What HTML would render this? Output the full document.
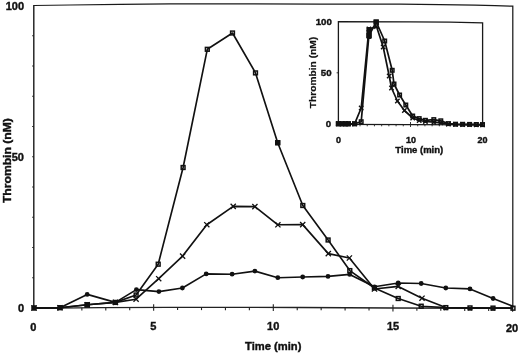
<!DOCTYPE html>
<html><head><meta charset="utf-8"><style>
html,body{margin:0;padding:0;background:#fff;width:520px;height:354px;overflow:hidden}
svg{display:block;font-family:"Liberation Sans",sans-serif;filter:grayscale(1)}
</style></head><body>
<svg width="520" height="354" viewBox="0 0 520 354">
<rect width="520" height="354" fill="#fff"/>
<g shape-rendering="geometricPrecision">
<polyline points="34,5.5 70,5.0 120,4.3 170,3.9 320,4.0 400,4.2 440,4.6 475,5.2 495,5.7 512.8,6.2 512.8,308.3" fill="none" stroke="#1a1a1a" stroke-width="1.25"/>
<line x1="33.8" y1="5" x2="33.8" y2="308.5" stroke="#1a1a1a" stroke-width="1.4"/>
<polyline points="33.8,308.3 100,307.7 170,307.4 300,307.5 393,308 512.8,308.3" fill="none" stroke="#222" stroke-width="1.3"/>
<line x1="57.93" y1="308.08" x2="57.93" y2="310.78" stroke="#222" stroke-width="1.1"/>
<line x1="81.86" y1="307.86" x2="81.86" y2="310.56" stroke="#222" stroke-width="1.1"/>
<line x1="105.79" y1="307.68" x2="105.79" y2="310.38" stroke="#222" stroke-width="1.1"/>
<line x1="129.72" y1="307.57" x2="129.72" y2="310.27" stroke="#222" stroke-width="1.1"/>
<line x1="153.65" y1="304.27" x2="153.65" y2="310.87" stroke="#222" stroke-width="1.1"/>
<line x1="177.58" y1="307.41" x2="177.58" y2="310.11" stroke="#222" stroke-width="1.1"/>
<line x1="201.51" y1="307.42" x2="201.51" y2="310.12" stroke="#222" stroke-width="1.1"/>
<line x1="225.44" y1="307.44" x2="225.44" y2="310.14" stroke="#222" stroke-width="1.1"/>
<line x1="249.37" y1="307.46" x2="249.37" y2="310.16" stroke="#222" stroke-width="1.1"/>
<line x1="273.30" y1="304.28" x2="273.30" y2="310.88" stroke="#222" stroke-width="1.1"/>
<line x1="297.23" y1="307.50" x2="297.23" y2="310.20" stroke="#222" stroke-width="1.1"/>
<line x1="321.16" y1="307.61" x2="321.16" y2="310.31" stroke="#222" stroke-width="1.1"/>
<line x1="345.09" y1="307.74" x2="345.09" y2="310.44" stroke="#222" stroke-width="1.1"/>
<line x1="369.02" y1="307.87" x2="369.02" y2="310.57" stroke="#222" stroke-width="1.1"/>
<line x1="392.95" y1="304.80" x2="392.95" y2="311.40" stroke="#222" stroke-width="1.1"/>
<line x1="416.88" y1="308.06" x2="416.88" y2="310.76" stroke="#222" stroke-width="1.1"/>
<line x1="440.81" y1="308.12" x2="440.81" y2="310.82" stroke="#222" stroke-width="1.1"/>
<line x1="464.74" y1="308.18" x2="464.74" y2="310.88" stroke="#222" stroke-width="1.1"/>
<line x1="488.67" y1="308.24" x2="488.67" y2="310.94" stroke="#222" stroke-width="1.1"/>
<line x1="512.60" y1="305.10" x2="512.60" y2="311.70" stroke="#222" stroke-width="1.1"/>
<line x1="32.2" y1="277.75" x2="33.8" y2="277.75" stroke="#222" stroke-width="1"/>
<line x1="32.2" y1="247.50" x2="33.8" y2="247.50" stroke="#222" stroke-width="1"/>
<line x1="32.2" y1="217.25" x2="33.8" y2="217.25" stroke="#222" stroke-width="1"/>
<line x1="32.2" y1="187.00" x2="33.8" y2="187.00" stroke="#222" stroke-width="1"/>
<line x1="32.2" y1="156.75" x2="33.8" y2="156.75" stroke="#222" stroke-width="1"/>
<line x1="32.2" y1="126.50" x2="33.8" y2="126.50" stroke="#222" stroke-width="1"/>
<line x1="32.2" y1="96.25" x2="33.8" y2="96.25" stroke="#222" stroke-width="1"/>
<line x1="32.2" y1="66.00" x2="33.8" y2="66.00" stroke="#222" stroke-width="1"/>
<line x1="32.2" y1="35.75" x2="33.8" y2="35.75" stroke="#222" stroke-width="1"/>
<polyline points="34,308 60,307.7 87.2,294.4 115.4,302.4 136.4,289.6 158.9,291.6 182.4,288 206.2,273.9 232.1,274.2 254.9,271.1 277.8,277.7 302.7,277 328,276.4 349.7,274.4 374.5,286.8 398.2,283 421.2,283.5 445.8,288 470,288.9 493.1,298.5 513,306.3" fill="none" stroke="#111" stroke-width="1.65" stroke-linejoin="round"/>
<polyline points="34,308 60,307.7 87.2,304.8 115.4,302.4 136.1,299.2 158.7,278.7 182.6,256.1 206.8,224.7 233.2,206.4 254.9,206.6 277.9,224.8 302.7,224.6 328.3,253.6 349.4,258 374.5,289 398.2,286.4 422,298.2 445.8,307.6 470,307.9 493,308.1 513,308.2" fill="none" stroke="#111" stroke-width="1.65" stroke-linejoin="round"/>
<polyline points="34,308 60,307.7 87.2,304.8 115.4,302.4 136.1,295 158.2,264.2 183.1,167.5 207.3,49.3 232.5,33 255.5,72.9 277.7,142.7 302.8,205.5 328.1,240 349.8,270.6 374.4,288 398.2,298.5 421.2,306.2 445.8,307.6 470,307.9 493,308.1 513,308.2" fill="none" stroke="#111" stroke-width="1.65" stroke-linejoin="round"/>
<rect x="32.10" y="306.10" width="3.8" height="3.8" fill="none" stroke="#111" stroke-width="1.5"/>
<rect x="58.10" y="305.80" width="3.8" height="3.8" fill="none" stroke="#111" stroke-width="1.5"/>
<rect x="85.30" y="302.90" width="3.8" height="3.8" fill="none" stroke="#111" stroke-width="1.5"/>
<rect x="113.50" y="300.50" width="3.8" height="3.8" fill="none" stroke="#111" stroke-width="1.5"/>
<rect x="134.20" y="293.10" width="3.8" height="3.8" fill="none" stroke="#111" stroke-width="1.5"/>
<rect x="156.30" y="262.30" width="3.8" height="3.8" fill="none" stroke="#111" stroke-width="1.5"/>
<rect x="181.20" y="165.60" width="3.8" height="3.8" fill="none" stroke="#111" stroke-width="1.5"/>
<rect x="205.40" y="47.40" width="3.8" height="3.8" fill="none" stroke="#111" stroke-width="1.5"/>
<rect x="230.60" y="31.10" width="3.8" height="3.8" fill="none" stroke="#111" stroke-width="1.5"/>
<rect x="253.60" y="71.00" width="3.8" height="3.8" fill="none" stroke="#111" stroke-width="1.5"/>
<rect x="275.80" y="140.80" width="3.8" height="3.8" fill="none" stroke="#111" stroke-width="1.5"/>
<rect x="300.90" y="203.60" width="3.8" height="3.8" fill="none" stroke="#111" stroke-width="1.5"/>
<rect x="326.20" y="238.10" width="3.8" height="3.8" fill="none" stroke="#111" stroke-width="1.5"/>
<rect x="347.90" y="268.70" width="3.8" height="3.8" fill="none" stroke="#111" stroke-width="1.5"/>
<rect x="372.50" y="286.10" width="3.8" height="3.8" fill="none" stroke="#111" stroke-width="1.5"/>
<rect x="396.30" y="296.60" width="3.8" height="3.8" fill="none" stroke="#111" stroke-width="1.5"/>
<rect x="419.30" y="304.30" width="3.8" height="3.8" fill="none" stroke="#111" stroke-width="1.5"/>
<rect x="443.90" y="305.70" width="3.8" height="3.8" fill="none" stroke="#111" stroke-width="1.5"/>
<rect x="468.10" y="306.00" width="3.8" height="3.8" fill="none" stroke="#111" stroke-width="1.5"/>
<rect x="491.10" y="306.20" width="3.8" height="3.8" fill="none" stroke="#111" stroke-width="1.5"/>
<rect x="511.10" y="306.30" width="3.8" height="3.8" fill="none" stroke="#111" stroke-width="1.5"/>
<path d="M31.40,305.40L36.60,310.60M36.60,305.40L31.40,310.60" stroke="#111" stroke-width="1.3"/>
<path d="M57.40,305.10L62.60,310.30M62.60,305.10L57.40,310.30" stroke="#111" stroke-width="1.3"/>
<path d="M84.60,302.20L89.80,307.40M89.80,302.20L84.60,307.40" stroke="#111" stroke-width="1.3"/>
<path d="M112.80,299.80L118.00,305.00M118.00,299.80L112.80,305.00" stroke="#111" stroke-width="1.3"/>
<path d="M133.50,296.60L138.70,301.80M138.70,296.60L133.50,301.80" stroke="#111" stroke-width="1.3"/>
<path d="M156.10,276.10L161.30,281.30M161.30,276.10L156.10,281.30" stroke="#111" stroke-width="1.3"/>
<path d="M180.00,253.50L185.20,258.70M185.20,253.50L180.00,258.70" stroke="#111" stroke-width="1.3"/>
<path d="M204.20,222.10L209.40,227.30M209.40,222.10L204.20,227.30" stroke="#111" stroke-width="1.3"/>
<path d="M230.60,203.80L235.80,209.00M235.80,203.80L230.60,209.00" stroke="#111" stroke-width="1.3"/>
<path d="M252.30,204.00L257.50,209.20M257.50,204.00L252.30,209.20" stroke="#111" stroke-width="1.3"/>
<path d="M275.30,222.20L280.50,227.40M280.50,222.20L275.30,227.40" stroke="#111" stroke-width="1.3"/>
<path d="M300.10,222.00L305.30,227.20M305.30,222.00L300.10,227.20" stroke="#111" stroke-width="1.3"/>
<path d="M325.70,251.00L330.90,256.20M330.90,251.00L325.70,256.20" stroke="#111" stroke-width="1.3"/>
<path d="M346.80,255.40L352.00,260.60M352.00,255.40L346.80,260.60" stroke="#111" stroke-width="1.3"/>
<path d="M371.90,286.40L377.10,291.60M377.10,286.40L371.90,291.60" stroke="#111" stroke-width="1.3"/>
<path d="M395.60,283.80L400.80,289.00M400.80,283.80L395.60,289.00" stroke="#111" stroke-width="1.3"/>
<path d="M419.40,295.60L424.60,300.80M424.60,295.60L419.40,300.80" stroke="#111" stroke-width="1.3"/>
<path d="M444.20,307.00L447.40,310.20M447.40,307.00L444.20,310.20" stroke="#111" stroke-width="1.1"/>
<path d="M468.40,307.30L471.60,310.50M471.60,307.30L468.40,310.50" stroke="#111" stroke-width="1.1"/>
<path d="M491.40,307.50L494.60,310.70M494.60,307.50L491.40,310.70" stroke="#111" stroke-width="1.1"/>
<circle cx="34" cy="308" r="2.4" fill="#111"/>
<circle cx="60" cy="307.7" r="2.4" fill="#111"/>
<circle cx="87.2" cy="294.4" r="2.4" fill="#111"/>
<circle cx="115.4" cy="302.4" r="2.4" fill="#111"/>
<circle cx="136.4" cy="289.6" r="2.4" fill="#111"/>
<circle cx="158.9" cy="291.6" r="2.4" fill="#111"/>
<circle cx="182.4" cy="288" r="2.4" fill="#111"/>
<circle cx="206.2" cy="273.9" r="2.4" fill="#111"/>
<circle cx="232.1" cy="274.2" r="2.4" fill="#111"/>
<circle cx="254.9" cy="271.1" r="2.4" fill="#111"/>
<circle cx="277.8" cy="277.7" r="2.4" fill="#111"/>
<circle cx="302.7" cy="277" r="2.4" fill="#111"/>
<circle cx="328" cy="276.4" r="2.4" fill="#111"/>
<circle cx="349.7" cy="274.4" r="2.4" fill="#111"/>
<circle cx="374.5" cy="286.8" r="2.4" fill="#111"/>
<circle cx="398.2" cy="283" r="2.4" fill="#111"/>
<circle cx="421.2" cy="283.5" r="2.4" fill="#111"/>
<circle cx="445.8" cy="288" r="2.4" fill="#111"/>
<circle cx="470" cy="288.9" r="2.4" fill="#111"/>
<circle cx="493.1" cy="298.5" r="2.4" fill="#111"/>
<rect x="84.8" y="302.2" width="5.2" height="5.2" fill="#111"/>
<rect x="275.1" y="140.1" width="5.2" height="5.2" fill="#111"/>
<polyline points="338.4,124.4 338.4,21.6 410,21.8 450,22.2 482.6,22.9 482.6,125" fill="none" stroke="#1a1a1a" stroke-width="1.3"/>
<polyline points="338.4,124.3 482.6,124.8" fill="none" stroke="#1a1a1a" stroke-width="1.3"/>
<line x1="345.61" y1="124.3" x2="345.61" y2="126.3" stroke="#222" stroke-width="0.9"/>
<line x1="352.82" y1="124.3" x2="352.82" y2="126.3" stroke="#222" stroke-width="0.9"/>
<line x1="360.03" y1="124.3" x2="360.03" y2="126.3" stroke="#222" stroke-width="0.9"/>
<line x1="367.24" y1="124.3" x2="367.24" y2="126.3" stroke="#222" stroke-width="0.9"/>
<line x1="374.45" y1="124.3" x2="374.45" y2="126.3" stroke="#222" stroke-width="0.9"/>
<line x1="381.66" y1="124.3" x2="381.66" y2="126.3" stroke="#222" stroke-width="0.9"/>
<line x1="388.87" y1="124.3" x2="388.87" y2="126.3" stroke="#222" stroke-width="0.9"/>
<line x1="396.08" y1="124.3" x2="396.08" y2="126.3" stroke="#222" stroke-width="0.9"/>
<line x1="403.29" y1="124.3" x2="403.29" y2="126.3" stroke="#222" stroke-width="0.9"/>
<line x1="410.50" y1="122" x2="410.50" y2="127" stroke="#222" stroke-width="0.9"/>
<line x1="417.71" y1="124.3" x2="417.71" y2="126.3" stroke="#222" stroke-width="0.9"/>
<line x1="424.92" y1="124.3" x2="424.92" y2="126.3" stroke="#222" stroke-width="0.9"/>
<line x1="432.13" y1="124.3" x2="432.13" y2="126.3" stroke="#222" stroke-width="0.9"/>
<line x1="439.34" y1="124.3" x2="439.34" y2="126.3" stroke="#222" stroke-width="0.9"/>
<line x1="446.55" y1="124.3" x2="446.55" y2="126.3" stroke="#222" stroke-width="0.9"/>
<line x1="453.76" y1="124.3" x2="453.76" y2="126.3" stroke="#222" stroke-width="0.9"/>
<line x1="460.97" y1="124.3" x2="460.97" y2="126.3" stroke="#222" stroke-width="0.9"/>
<line x1="468.18" y1="124.3" x2="468.18" y2="126.3" stroke="#222" stroke-width="0.9"/>
<line x1="475.39" y1="124.3" x2="475.39" y2="126.3" stroke="#222" stroke-width="0.9"/>
<line x1="482.60" y1="122" x2="482.60" y2="127" stroke="#222" stroke-width="0.9"/>
<line x1="336.6" y1="72.8" x2="338.4" y2="72.8" stroke="#222" stroke-width="0.9"/>
<polyline points="338.4,123.8 342,123.8 345.6,123.8 348.5,123.8 354.6,123.8 361.2,108 368.9,29 376.5,26.5 383.2,47 389.2,76 391.5,88 397.4,101 404.4,110.5 412.7,118 419.2,120.5 425.4,121.5 433.8,122.2 440.8,122.8 448.4,124 455.5,124.4 462.6,124.5 469.6,124.6 476.3,124.7 482.5,124.8" fill="none" stroke="#111" stroke-width="1.7" stroke-linejoin="round"/>
<polyline points="338.4,123.8 342,123.8 345.6,123.8 348.5,123.8 354.6,123.8 361.2,121.7 368.9,35.5 376.3,22 384.7,41 392.2,70.3 394,84 399.6,95 405.8,105 412.7,116 419.2,118.6 425.4,120.3 433.8,119.6 440.8,120.8 448.4,123.6 455.5,124.2 462.6,124.3 469.6,124.4 476.3,124.5 482.5,124.6" fill="none" stroke="#111" stroke-width="1.7" stroke-linejoin="round"/>
<rect x="336.65" y="122.05" width="3.5" height="3.5" fill="none" stroke="#111" stroke-width="1.5"/>
<rect x="340.25" y="122.05" width="3.5" height="3.5" fill="none" stroke="#111" stroke-width="1.5"/>
<rect x="343.85" y="122.05" width="3.5" height="3.5" fill="none" stroke="#111" stroke-width="1.5"/>
<rect x="346.75" y="122.05" width="3.5" height="3.5" fill="none" stroke="#111" stroke-width="1.5"/>
<rect x="352.85" y="122.05" width="3.5" height="3.5" fill="none" stroke="#111" stroke-width="1.5"/>
<rect x="359.45" y="119.95" width="3.5" height="3.5" fill="none" stroke="#111" stroke-width="1.5"/>
<rect x="367.15" y="33.75" width="3.5" height="3.5" fill="none" stroke="#111" stroke-width="1.5"/>
<rect x="374.55" y="20.25" width="3.5" height="3.5" fill="none" stroke="#111" stroke-width="1.5"/>
<rect x="382.95" y="39.25" width="3.5" height="3.5" fill="none" stroke="#111" stroke-width="1.5"/>
<rect x="390.45" y="68.55" width="3.5" height="3.5" fill="none" stroke="#111" stroke-width="1.5"/>
<rect x="392.25" y="82.25" width="3.5" height="3.5" fill="none" stroke="#111" stroke-width="1.5"/>
<rect x="397.85" y="93.25" width="3.5" height="3.5" fill="none" stroke="#111" stroke-width="1.5"/>
<rect x="404.05" y="103.25" width="3.5" height="3.5" fill="none" stroke="#111" stroke-width="1.5"/>
<rect x="410.95" y="114.25" width="3.5" height="3.5" fill="none" stroke="#111" stroke-width="1.5"/>
<rect x="417.45" y="116.85" width="3.5" height="3.5" fill="none" stroke="#111" stroke-width="1.5"/>
<rect x="423.65" y="118.55" width="3.5" height="3.5" fill="none" stroke="#111" stroke-width="1.5"/>
<rect x="432.05" y="117.85" width="3.5" height="3.5" fill="none" stroke="#111" stroke-width="1.5"/>
<rect x="439.05" y="119.05" width="3.5" height="3.5" fill="none" stroke="#111" stroke-width="1.5"/>
<rect x="446.65" y="121.85" width="3.5" height="3.5" fill="none" stroke="#111" stroke-width="1.5"/>
<rect x="453.75" y="122.45" width="3.5" height="3.5" fill="none" stroke="#111" stroke-width="1.5"/>
<rect x="460.85" y="122.55" width="3.5" height="3.5" fill="none" stroke="#111" stroke-width="1.5"/>
<rect x="467.85" y="122.65" width="3.5" height="3.5" fill="none" stroke="#111" stroke-width="1.5"/>
<rect x="474.55" y="122.75" width="3.5" height="3.5" fill="none" stroke="#111" stroke-width="1.5"/>
<rect x="480.75" y="122.85" width="3.5" height="3.5" fill="none" stroke="#111" stroke-width="1.5"/>
<path d="M336.20,121.60L340.60,126.00M340.60,121.60L336.20,126.00" stroke="#111" stroke-width="1.4"/>
<path d="M339.80,121.60L344.20,126.00M344.20,121.60L339.80,126.00" stroke="#111" stroke-width="1.4"/>
<path d="M343.40,121.60L347.80,126.00M347.80,121.60L343.40,126.00" stroke="#111" stroke-width="1.4"/>
<path d="M346.30,121.60L350.70,126.00M350.70,121.60L346.30,126.00" stroke="#111" stroke-width="1.4"/>
<path d="M352.40,121.60L356.80,126.00M356.80,121.60L352.40,126.00" stroke="#111" stroke-width="1.4"/>
<path d="M359.00,105.80L363.40,110.20M363.40,105.80L359.00,110.20" stroke="#111" stroke-width="1.4"/>
<path d="M366.70,26.80L371.10,31.20M371.10,26.80L366.70,31.20" stroke="#111" stroke-width="1.4"/>
<path d="M374.30,24.30L378.70,28.70M378.70,24.30L374.30,28.70" stroke="#111" stroke-width="1.4"/>
<path d="M381.00,44.80L385.40,49.20M385.40,44.80L381.00,49.20" stroke="#111" stroke-width="1.4"/>
<path d="M387.00,73.80L391.40,78.20M391.40,73.80L387.00,78.20" stroke="#111" stroke-width="1.4"/>
<path d="M389.30,85.80L393.70,90.20M393.70,85.80L389.30,90.20" stroke="#111" stroke-width="1.4"/>
<path d="M395.20,98.80L399.60,103.20M399.60,98.80L395.20,103.20" stroke="#111" stroke-width="1.4"/>
<path d="M402.20,108.30L406.60,112.70M406.60,108.30L402.20,112.70" stroke="#111" stroke-width="1.4"/>
<path d="M410.50,115.80L414.90,120.20M414.90,115.80L410.50,120.20" stroke="#111" stroke-width="1.4"/>
<path d="M417.00,118.30L421.40,122.70M421.40,118.30L417.00,122.70" stroke="#111" stroke-width="1.4"/>
<path d="M423.20,119.30L427.60,123.70M427.60,119.30L423.20,123.70" stroke="#111" stroke-width="1.4"/>
<path d="M431.60,120.00L436.00,124.40M436.00,120.00L431.60,124.40" stroke="#111" stroke-width="1.4"/>
<path d="M438.60,120.60L443.00,125.00M443.00,120.60L438.60,125.00" stroke="#111" stroke-width="1.4"/>
<path d="M446.20,121.80L450.60,126.20M450.60,121.80L446.20,126.20" stroke="#111" stroke-width="1.4"/>
<path d="M453.30,122.20L457.70,126.60M457.70,122.20L453.30,126.60" stroke="#111" stroke-width="1.4"/>
<path d="M460.40,122.30L464.80,126.70M464.80,122.30L460.40,126.70" stroke="#111" stroke-width="1.4"/>
<path d="M467.40,122.40L471.80,126.80M471.80,122.40L467.40,126.80" stroke="#111" stroke-width="1.4"/>
<path d="M474.10,122.50L478.50,126.90M478.50,122.50L474.10,126.90" stroke="#111" stroke-width="1.4"/>
<path d="M480.30,122.60L484.70,127.00M484.70,122.60L480.30,127.00" stroke="#111" stroke-width="1.4"/>
<rect x="335.8" y="121.3" width="14.4" height="5" fill="#111"/>
<rect x="366.4" y="27" width="5.4" height="12" rx="1.5" fill="#111"/>
<rect x="373.4" y="19.5" width="5.4" height="5" fill="#111"/>
<rect x="352.3" y="121.5" width="4.8" height="4.6" fill="#111"/>
</g>
<g font-family="Liberation Sans, sans-serif" font-weight="bold" fill="#111" stroke="#111" stroke-width="0.4">
<text x="24" y="9.6" font-size="11" text-anchor="end" >100</text>
<text x="24" y="161.3" font-size="11" text-anchor="end" >50</text>
<text x="24" y="312" font-size="11" text-anchor="end" >0</text>
<text x="33.3" y="331.0" font-size="11" text-anchor="middle" >0</text>
<text x="153.2" y="329.59999999999997" font-size="11" text-anchor="middle" >5</text>
<text x="273.2" y="330.0" font-size="11" text-anchor="middle" >10</text>
<text x="393" y="330.3" font-size="11" text-anchor="middle" >15</text>
<text x="512" y="332.09999999999997" font-size="11" text-anchor="middle" >20</text>
<text x="273.2" y="349.5" font-size="11.2" text-anchor="middle" >Time (min)</text>
<text transform="translate(10.6,160.6) rotate(-90) scale(1.095,1)" font-size="11.1" text-anchor="middle">Thrombin (nM)</text>
<text x="331.8" y="24.6" font-size="9.7" text-anchor="end" >100</text>
<text x="331.6" y="75.9" font-size="9.7" text-anchor="end" >50</text>
<text x="331.2" y="127.3" font-size="9.7" text-anchor="end" >0</text>
<text x="338.6" y="142.6" font-size="9" text-anchor="middle" >0</text>
<text x="411.1" y="142.6" font-size="9" text-anchor="middle" >10</text>
<text x="482.4" y="142.6" font-size="9" text-anchor="middle" >20</text>
<text x="419.3" y="153" font-size="9.5" text-anchor="middle" >Time (min)</text>
<text transform="translate(316.2,72.5) rotate(-90) scale(1.1,1)" font-size="9.3" text-anchor="middle" stroke-width="0.2">Thrombin (nM)</text>
</g>
</svg>
</body></html>
